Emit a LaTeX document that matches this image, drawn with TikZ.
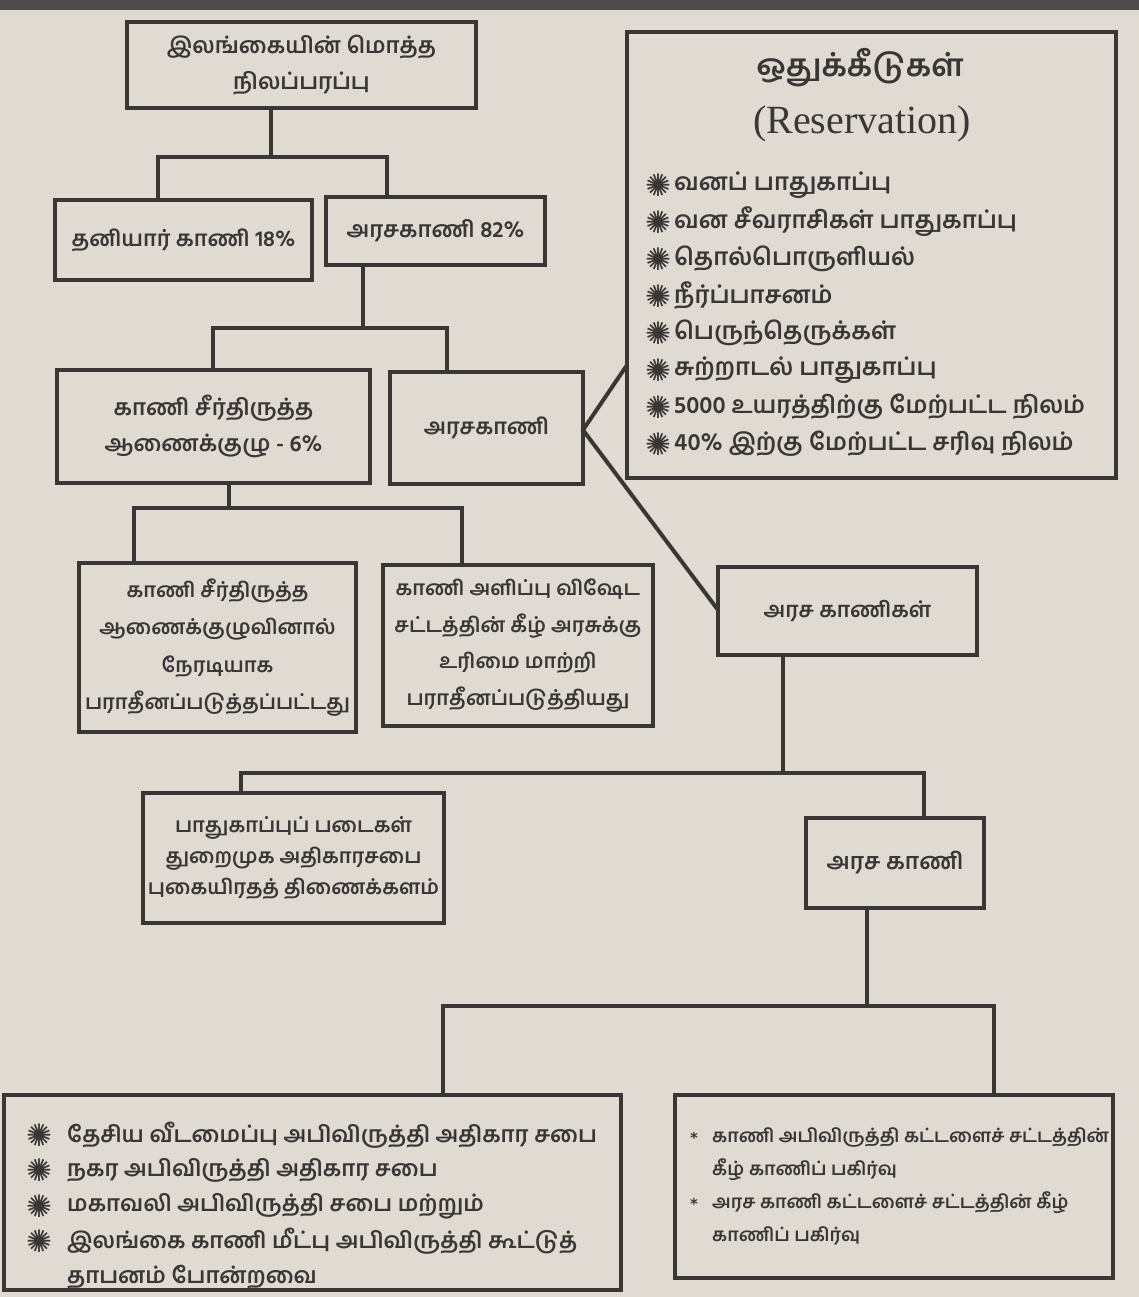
\documentclass[tikz,border=0pt]{standalone}
\usepackage{fontspec}
\newfontfamily\tam[Script=Tamil]{Hind Madurai}
\newfontfamily\djv{DejaVu Sans}
\newfontfamily\tms{Liberation Serif}
\definecolor{bgc}{RGB}{223,219,211}
\definecolor{ink}{RGB}{58,54,54}
\definecolor{band}{RGB}{78,75,75}
\tikzset{
  box/.style={draw=ink, line width=4.5pt, inner sep=0pt, align=center, text=ink,
    font=\tam\bfseries\fontsize{22.5}{36}\selectfont},
  conn/.style={draw=ink, line width=4.5pt},
  item/.style={anchor=west, inner sep=0pt, text=ink, font=\tam\bfseries\fontsize{24}{30}\selectfont},
  litem/.style={anchor=west, inner sep=0pt, text=ink, font=\tam\bfseries\fontsize{22.5}{30}\selectfont},
  sitem/.style={anchor=west, inner sep=0pt, text=ink, font=\tam\bfseries\fontsize{18.5}{26}\selectfont},
  star/.style={anchor=center, inner sep=0pt, text=ink, font=\djv\fontsize{31}{31}\selectfont},
  sstar/.style={anchor=center, inner sep=0pt, text=ink, font=\djv\bfseries\fontsize{15}{15}\selectfont}
}
\begin{document}
\begin{tikzpicture}[x=1pt,y=-1pt]
\useasboundingbox (0,0) rectangle (1139,1297);
\fill[bgc] (0,0) rectangle (1139,1297);
\fill[band] (0,0) rectangle (1139,10);

% boxes
\node[box, minimum width=349pt, minimum height=86pt] (b1) at (301.5,65) {இலங்கையின் மொத்த\\நிலப்பரப்பு};
\node[box, minimum width=257pt, minimum height=80pt, font=\tam\bfseries\fontsize{22}{30}\selectfont] (b2) at (183.5,240) {தனியார் காணி 18\%};
\node[box, minimum width=219pt, minimum height=68pt] (b3) at (435.5,231) {அரசகாணி 82\%};
\node[box, minimum width=313pt, minimum height=113pt] (b4) at (213.5,426.5) {காணி சீர்திருத்த\\ஆணைக்குழு - 6\%};
\node[box, minimum width=193pt, minimum height=112pt, font=\tam\bfseries\fontsize{22}{30}\selectfont] (b5) at (486.5,428) {அரசகாணி};
\node[box, minimum width=277pt, minimum height=169pt, font=\tam\bfseries\fontsize{20.5}{37.5}\selectfont] (b6) at (217.5,647.5) {காணி சீர்திருத்த\\ஆணைக்குழுவினால்\\நேரடியாக\\பராதீனப்படுத்தப்பட்டது};
\node[box, minimum width=270pt, minimum height=161pt, font=\tam\bfseries\fontsize{20.5}{36.5}\selectfont] (b7) at (518,645.5) {காணி அளிப்பு விஷேட\\சட்டத்தின் கீழ் அரசுக்கு\\உரிமை மாற்றி\\பராதீனப்படுத்தியது};
\node[box, minimum width=489pt, minimum height=446pt] (res) at (871.5,255) {};
\node[box, minimum width=259pt, minimum height=88pt, font=\tam\bfseries\fontsize{21.5}{30}\selectfont] (b8) at (847.5,611) {அரச காணிகள்};
\node[box, minimum width=301pt, minimum height=130pt, font=\tam\bfseries\fontsize{20.5}{31}\selectfont] (b9) at (293.5,858) {பாதுகாப்புப் படைகள்\\துறைமுக அதிகாரசபை\\புகையிரதத் திணைக்களம்};
\node[box, minimum width=178pt, minimum height=90pt, font=\tam\bfseries\fontsize{23}{30}\selectfont] (b10) at (895,863) {அரச காணி};
\node[box, minimum width=617pt, minimum height=195pt] (b11) at (312.5,1192.5) {};
\node[box, minimum width=438pt, minimum height=183pt] (b12) at (894,1186.5) {};

% reservation contents
\node[inner sep=0pt, text=ink, font=\tam\bfseries\fontsize{31}{31}\selectfont] (rt) at (860,68) {ஒதுக்கீடுகள்};
\node[inner sep=0pt, text=ink, font=\tms\fontsize{40}{40}\selectfont] (rs) at (862,124) {(Reservation)};
\foreach \t [count=\i from 0] in {வனப் பாதுகாப்பு, வன சீவராசிகள் பாதுகாப்பு, தொல்பொருளியல், நீர்ப்பாசனம், பெருந்தெருக்கள், சுற்றாடல் பாதுகாப்பு, 5000 உயரத்திற்கு மேற்பட்ட நிலம், 40\% இற்கு மேற்பட்ட சரிவு நிலம்}{
  \node[star] (rs\i) at (658,{185+37*\i}) {✺};
  \node[item] (ri\i) at (674,{185+37*\i}) {\t};
}

% bottom-left contents
\foreach \t [count=\i from 0] in {தேசிய வீடமைப்பு அபிவிருத்தி அதிகார சபை, நகர அபிவிருத்தி அதிகார சபை, மகாவலி அபிவிருத்தி சபை மற்றும், இலங்கை காணி மீட்பு அபிவிருத்தி கூட்டுத்}{
  \node[star] (ls\i) at (39,{1135+35.5*\i}) {✺};
  \node[litem] (li\i) at (67,{1135+35.5*\i}) {\t};
}
\node[litem] (li4) at (67,1277) {தாபனம் போன்றவை};

% bottom-right contents
\node[sstar] (rb1) at (694,1138) {*};
\node[sitem] (ra1) at (712,1137) {காணி அபிவிருத்தி கட்டளைச் சட்டத்தின்};
\node[sitem] (ra2) at (712,1170) {கீழ் காணிப் பகிர்வு};
\node[sstar] (rb2) at (694,1204) {*};
\node[sitem] (ra3) at (712,1203) {அரச காணி கட்டளைச் சட்டத்தின் கீழ்};
\node[sitem] (ra4) at (712,1236) {காணிப் பகிர்வு};

% connectors
\coordinate (j1) at (271,157);
\coordinate (j1l) at (158,157);
\coordinate (j1r) at (387,157);
\draw[conn] (j1 |- b1.south) -- (j1);
\draw[conn] (j1l |- b2.north) -- (j1l) -- (j1r) -- (j1r |- b3.north);

\coordinate (j2) at (363,328);
\coordinate (j2l) at (213,328);
\coordinate (j2r) at (447,328);
\draw[conn] (j2 |- b3.south) -- (j2);
\draw[conn] (j2l |- b4.north) -- (j2l) -- (j2r) -- (j2r |- b5.north);

\coordinate (j3) at (229,508);
\coordinate (j3l) at (134,508);
\coordinate (j3r) at (462,508);
\draw[conn] (j3 |- b4.south) -- (j3);
\draw[conn] (j3l |- b6.north) -- (j3l) -- (j3r) -- (j3r |- b7.north);

\coordinate (s5) at (583,430);
\coordinate (rin) at (627,365);
\coordinate (b8in) at (718,610);
\draw[conn, line width=4pt] (rin) -- (s5) -- (b8in);

\coordinate (j4) at (783,773);
\coordinate (j4l) at (241,773);
\coordinate (j4r) at (924,773);
\draw[conn] (j4 |- b8.south) -- (j4);
\draw[conn] (j4l |- b9.north) -- (j4l) -- (j4r) -- (j4r |- b10.north);

\coordinate (j5) at (867,1006);
\coordinate (j5l) at (443,1006);
\coordinate (j5r) at (994,1006);
\draw[conn] (j5 |- b10.south) -- (j5);
\draw[conn] (j5l |- b11.north) -- (j5l) -- (j5r) -- (j5r |- b12.north);
\end{tikzpicture}
\end{document}
